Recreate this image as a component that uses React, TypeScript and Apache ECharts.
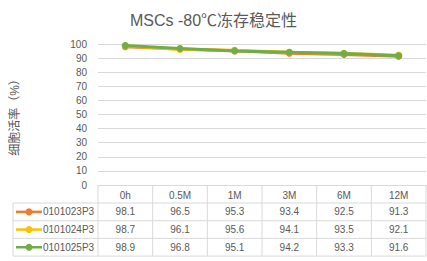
import React, { useEffect, useRef } from "react";
import * as echarts from "echarts";

const categories = ["0h", "0.5M", "1M", "3M", "6M", "12M"];
const seriesNames = ["0101023P3", "0101024P3", "0101025P3"];
const s1 = [98.1, 96.5, 95.3, 93.4, 92.5, 91.3];
const s2 = [98.7, 96.1, 95.6, 94.1, 93.5, 92.1];
const s3 = [98.9, 96.8, 95.1, 94.2, 93.3, 91.6];
const seriesData = [s1, s2, s3];
const colors = ["#ED7D31", "#FFC000", "#70AD47"];
const yTicks = { min: 0, max: 100, interval: 10 };

const FONT = "'Liberation Sans', 'Noto Sans CJK SC', sans-serif";
const TXT = "#595959";
const BORDER = "#D9D9D9";

export default function App() {
  const ref = useRef<HTMLDivElement>(null);
  useEffect(() => {
    document.body.style.margin = "0";
    if (!ref.current) return;
    const chart = echarts.init(ref.current, undefined, { renderer: "svg" });
    chart.setOption({
      animation: false,
      textStyle: { fontFamily: FONT },
      title: {
        text: "MSCs -80℃冻存稳定性",
        left: "center",
        top: 7,
        textStyle: { fontSize: 16, fontWeight: "normal", color: TXT, fontFamily: FONT },
      },
      grid: { left: 98, right: 1, top: 44, bottom: 76, containLabel: false },
      xAxis: {
        type: "category",
        data: categories,
        boundaryGap: true,
        axisLine: { show: true, lineStyle: { color: BORDER, width: 1 } },
        axisTick: { show: false },
        axisLabel: { color: TXT, fontSize: 10, margin: 5, fontFamily: FONT },
        splitLine: { show: false },
      },
      yAxis: {
        type: "value",
        min: yTicks.min,
        max: yTicks.max,
        interval: yTicks.interval,
        name: "细胞活率（%）",
        nameLocation: "middle",
        nameRotate: 90,
        nameGap: 77,
        nameTextStyle: { color: TXT, fontSize: 12, fontFamily: FONT },
        axisLine: { show: false },
        axisTick: { show: false },
        axisLabel: { color: TXT, fontSize: 10, margin: 11, fontFamily: FONT },
        splitLine: { lineStyle: { color: BORDER, width: 1 } },
      },
      series: seriesData.map((d, i) => ({
        name: seriesNames[i],
        type: "line",
        data: d,
        symbol: "circle",
        symbolSize: 7,
        itemStyle: { color: colors[i] },
        lineStyle: { color: colors[i], width: 3 },
        z: 2 + i,
      })),
    });

    const xs = categories.map((_, i) => chart.convertToPixel({ xAxisIndex: 0 }, i) as number);
    const bw = xs.length > 1 ? xs[1] - xs[0] : 50;
    const yTop = chart.convertToPixel({ yAxisIndex: 0 }, 0) as number;
    const headerH = 18;
    const rowH = 17.7;
    const legendLeft = 13;
    const rightEdge = xs[xs.length - 1] + bw / 2;
    const tableBottom = yTop + headerH + rowH * seriesData.length;
    const els: any[] = [];
    const bounds = xs.map((x) => x - bw / 2).concat([rightEdge]);
    bounds.forEach((bx) => {
      els.push({
        type: "line",
        shape: { x1: bx, y1: yTop, x2: bx, y2: tableBottom },
        style: { stroke: BORDER, lineWidth: 1 },
        silent: true,
      });
    });
    els.push({
      type: "line",
      shape: { x1: legendLeft, y1: yTop + headerH, x2: legendLeft, y2: tableBottom },
      style: { stroke: BORDER, lineWidth: 1 },
      silent: true,
    });
    for (let r = 0; r <= seriesData.length; r++) {
      const y = yTop + headerH + rowH * r;
      els.push({
        type: "line",
        shape: { x1: legendLeft, y1: y, x2: rightEdge, y2: y },
        style: { stroke: BORDER, lineWidth: 1 },
        silent: true,
      });
    }
    seriesData.forEach((d, r) => {
      const cy = yTop + headerH + rowH * r + rowH / 2;
      els.push({
        type: "line",
        shape: { x1: 16, y1: cy, x2: 42, y2: cy },
        style: { stroke: colors[r], lineWidth: 2.5 },
        silent: true,
      });
      els.push({
        type: "circle",
        shape: { cx: 29, cy, r: 3.5 },
        style: { fill: colors[r] },
        silent: true,
      });
      els.push({
        type: "text",
        x: 43,
        y: cy,
        style: {
          text: seriesNames[r],
          fill: TXT,
          fontSize: 10,
          fontFamily: FONT,
          align: "left",
          verticalAlign: "middle",
        },
        silent: true,
      });
      d.forEach((v, i) => {
        els.push({
          type: "text",
          x: xs[i],
          y: cy,
          style: {
            text: v.toFixed(1),
            fill: TXT,
            fontSize: 10,
            fontFamily: FONT,
            align: "center",
            verticalAlign: "middle",
          },
          silent: true,
        });
      });
    });
    chart.setOption({ graphic: { elements: els } });
    return () => chart.dispose();
  }, []);
  return <div ref={ref} style={{ width: 427, height: 261 }} />;
}
